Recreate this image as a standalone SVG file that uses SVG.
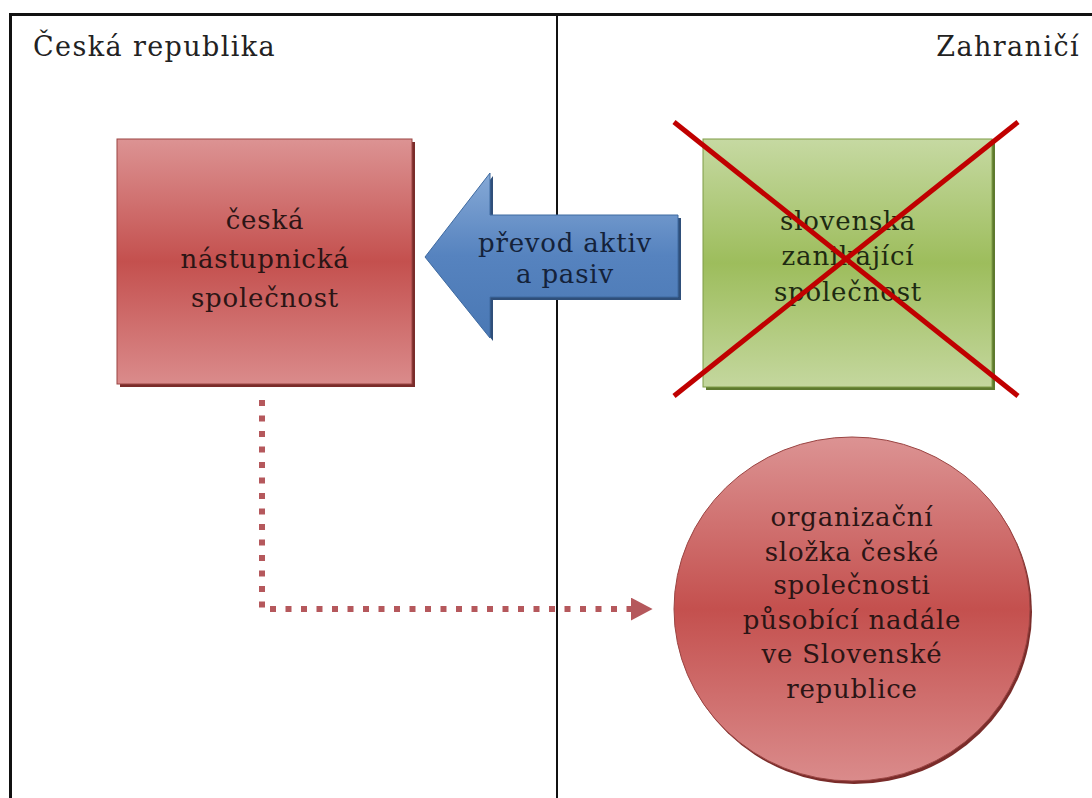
<svg xmlns="http://www.w3.org/2000/svg" width="1092" height="798" viewBox="0 0 1092 798">
<style>
.t{font-family:"DejaVu Serif","Liberation Serif",serif;fill:#222;}
.lbl{font-size:26px;text-anchor:middle;fill:#2b1515;letter-spacing:0.8px;}
.hd{font-size:27px;letter-spacing:1.4px;}
.frame{stroke:#111;fill:none;}
</style>
<defs>
<linearGradient id="gRed" x1="0" y1="0" x2="0" y2="1">
<stop offset="0" stop-color="#dc9393"/>
<stop offset="0.5" stop-color="#c4504e"/>
<stop offset="1" stop-color="#da8b8b"/>
</linearGradient>
<linearGradient id="gGreen" x1="0" y1="0" x2="0" y2="1">
<stop offset="0" stop-color="#c6d9a2"/>
<stop offset="0.5" stop-color="#9dbd5c"/>
<stop offset="1" stop-color="#c4d79e"/>
</linearGradient>
<linearGradient id="gBlue" x1="0" y1="0" x2="0" y2="1">
<stop offset="0" stop-color="#86a9d6"/>
<stop offset="0.5" stop-color="#5683bf"/>
<stop offset="1" stop-color="#4a78b4"/>
</linearGradient>
<marker id="ah" markerWidth="4" markerHeight="4" refX="0.5" refY="1.9" orient="auto" markerUnits="strokeWidth">
<path d="M0,0 L3.6,1.9 L0,3.8 Z" fill="#b5585c"/>
</marker>
</defs>

<g id="frame">
<line class="frame" x1="10.5" y1="14.5" x2="1092" y2="14.5" stroke-width="3"/>
<line class="frame" x1="10.5" y1="13" x2="10.5" y2="798" stroke-width="3"/>
<line class="frame" x1="557" y1="15" x2="557" y2="798" stroke-width="2"/>
<text class="t hd" x="33" y="56">Česká republika</text>
<text class="t hd" x="1080" y="56" text-anchor="end">Zahraničí</text>
</g>

<g id="connectors">
<polyline points="262,400 262,609 634,609" fill="none" stroke="#b5585c" stroke-width="6" stroke-dasharray="6,9.5" marker-end="url(#ah)"/>
</g>

<g id="node-ceska">
<rect x="120" y="142" width="295" height="245" fill="#7a2c2a"/>
<rect x="117" y="139" width="295" height="245" fill="url(#gRed)" stroke="#9a4442" stroke-width="1"/>
<text class="t lbl" x="265" y="229">česká</text>
<text class="t lbl" x="265" y="268">nástupnická</text>
<text class="t lbl" x="265" y="307">společnost</text>
</g>

<g id="node-arrow">
<path d="M425,257 L490,173 L490,215 L678,215 L678,297 L490,297 L490,338 Z" fill="#2f4f7a" transform="translate(3,3)"/>
<path d="M425,257 L490,173 L490,215 L678,215 L678,297 L490,297 L490,338 Z" fill="url(#gBlue)" stroke="#3f6aa0" stroke-width="1"/>
<text class="t lbl" x="565" y="252" style="fill:#14223a">převod aktiv</text>
<text class="t lbl" x="565" y="283" style="fill:#14223a">a pasiv</text>
</g>

<g id="node-slovenska">
<rect x="706" y="142" width="289" height="248" fill="#5e7a2e"/>
<rect x="703" y="139" width="289" height="248" fill="url(#gGreen)" stroke="#7f9c46" stroke-width="1"/>
<text class="t lbl" x="848" y="230" style="fill:#1e2a12">slovenska</text>
<text class="t lbl" x="848" y="265" style="fill:#1e2a12">zanikající</text>
<text class="t lbl" x="848" y="301" style="fill:#1e2a12">společnost</text>
<line x1="674" y1="122" x2="1018" y2="396" stroke="#c00000" stroke-width="5"/>
<line x1="1018" y1="122" x2="674" y2="396" stroke="#c00000" stroke-width="5"/>
</g>

<g id="node-slozka">
<ellipse cx="854" cy="612" rx="178" ry="172" fill="#7a2c2a"/>
<ellipse cx="852" cy="609" rx="178" ry="172" fill="url(#gRed)" stroke="#9a4442" stroke-width="1"/>
<text class="t lbl" x="852" y="526">organizační</text>
<text class="t lbl" x="852" y="561">složka české</text>
<text class="t lbl" x="852" y="594">společnosti</text>
<text class="t lbl" x="852" y="629">působící nadále</text>
<text class="t lbl" x="852" y="663">ve Slovenské</text>
<text class="t lbl" x="852" y="698">republice</text>
</g>
</svg>
